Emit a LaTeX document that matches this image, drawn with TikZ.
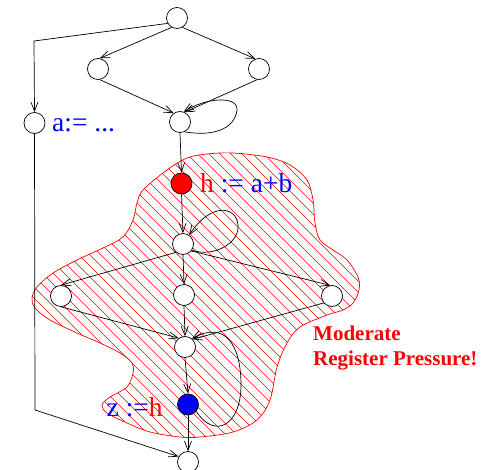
\documentclass[tikz,border=0pt]{standalone}
\usepackage{fontspec}
\setmainfont{Liberation Serif}
\usetikzlibrary{arrows.meta}
\begin{document}
\begin{tikzpicture}[x=1pt,y=-1pt,
  vnode/.style={circle,draw=black,fill=white,line width=0.7pt,minimum size=21pt,inner sep=0pt},
  edge/.style={line width=0.7pt,-{Straight Barb[length=9pt,width=7pt,line width=0.7pt]}},
  plain/.style={line width=0.7pt},
  lbl/.style={font=\fontsize{27.5}{30}\selectfont,inner sep=0pt,anchor=base west},
  note/.style={font=\fontsize{21}{25}\selectfont\bfseries,text=red,inner sep=0pt,anchor=base west,align=left}]
\useasboundingbox (0,0) rectangle (487,470);
% hatched region
\def\blob{plot[smooth cycle,tension=0.55] coordinates {
 (143,190) (167,170) (187,158) (207,154) (233,153) (267,157) (290,165) (307,180)
 (313,200) (315,223) (320,240) (333,250) (347,260) (358,277) (359,290) (353,303)
 (343,310) (327,315) (300,327) (287,343) (277,367) (270,400) (257,420) (233,432)
 (200,437) (180,437) (150,432) (127,423) (107,413) (102,405) (110,397) (127,387)
 (133,373) (132,363) (120,353) (100,343) (77,333) (50,320) (35,308) (32,298)
 (37,287) (53,273) (77,260) (103,248) (123,237) (133,220) (137,203)}}
\begin{scope}
  \clip \blob;
  \foreach \k in {-300,-289,...,400} \draw[red,line width=0.5pt] (\k,140) -- ++(320,320);
\end{scope}
\draw[red,line width=0.7pt] \blob;
% nodes
\node[vnode] (top) at (177,18) {};
\node[vnode] (l1) at (98,69) {};
\node[vnode] (r1) at (259,69) {};
\node[vnode] (a) at (34.5,123) {};
\node[vnode] (mid) at (180,122) {};
\node[vnode,fill=red] (h) at (181.5,183.5) {};
\node[vnode] (n2) at (183,244) {};
\node[vnode] (ln3) at (61,296) {};
\node[vnode] (cn3) at (184,295) {};
\node[vnode] (rn3) at (332,296) {};
\node[vnode] (n4) at (185,347) {};
\node[vnode,fill=blue] (z) at (188,404.5) {};
\node[vnode] (bot) at (188,462) {};
\coordinate (c1) at (34,41);
\coordinate (c2) at (35,410);
% edges
\draw[plain] (top.-150) -- (c1);
\draw[edge] (c1) -- (a.north);
\draw[edge] (top.-120) -- (l1.80);
\draw[edge] (top.-60) -- (r1.110);
\draw[edge] (l1.-80) -- (mid.125);
\draw[edge] (r1.-100) -- (mid.65);
\draw[edge] (mid.-65) .. controls (215,137) and (235,128) .. (237,110) .. controls (238,95) and (205,98) .. (mid.70);
\draw[edge] (mid.south) -- (h.north);
\draw[plain] (a.south) -- (c2);
\draw[edge] (c2) -- (bot.150);
\draw[edge] (h.south) -- (n2.north);
\draw[edge] (n2.-35) .. controls (215,258) and (240,242) .. (238,225) .. controls (236,205) and (210,203) .. (n2.55);
\draw[edge] (n2.-130) -- (ln3.north);
\draw[edge] (n2.south) -- (cn3.north);
\draw[edge] (n2.-40) -- (rn3.100);
\draw[edge] (ln3.south) -- (n4.125);
\draw[edge] (cn3.south) -- (n4.north);
\draw[edge] (rn3.-140) -- (n4.45);
\draw[edge] (n4.south) -- (z.north);
\draw[edge] (z.-40) .. controls (215,440) and (241,425) .. (241,385) .. controls (241,345) and (225,320) .. (n4.50);
\draw[edge] (z.south) -- (bot.north);
% labels
\node[lbl,text=blue] (ta) at (52,132) {a:= ...};
\node[lbl] (th) at (200,192.5) {\textcolor{red}{h} \textcolor{blue}{:= a+b}};
\node[lbl] (tz) at (106.5,416.5) {\textcolor{blue}{z :=}\textcolor{red}{h}};
\node[note] (tm) at (313,365) {Moderate\\Register Pressure!};
\end{tikzpicture}
\end{document}
